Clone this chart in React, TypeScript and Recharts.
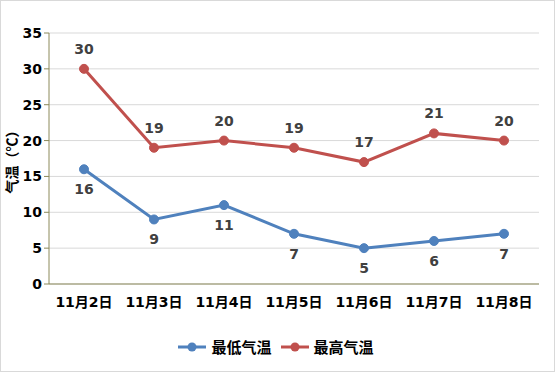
import { LineChart, Line, XAxis, YAxis, CartesianGrid, LabelList, Label, Legend } from "recharts";

const days = ["11月2日", "11月3日", "11月4日", "11月5日", "11月6日", "11月7日", "11月8日"];
const minTemp = [16, 9, 11, 7, 5, 6, 7];
const maxTemp = [30, 19, 20, 19, 17, 21, 20];
const yTicks = [0, 5, 10, 15, 20, 25, 30, 35];

const data = days.map((d, i) => ({ day: d, min: minTemp[i], max: maxTemp[i] }));

const FONT = "'DejaVu Sans', 'Noto Sans CJK SC', sans-serif";
const AXIS = "#8c8a5a";
const BLUE = "#4f81bd";
const RED = "#c0504d";

const legendItems = [
  { name: "最低气温", color: BLUE },
  { name: "最高气温", color: RED },
];

function MyLegend() {
  return (
    <div style={{ display: "flex", justifyContent: "center", gap: 8, paddingLeft: 12, fontFamily: "'Noto Sans CJK SC', sans-serif", fontWeight: 700, fontSize: 15, color: "#000" }}>
      {legendItems.map((it) => (
        <div key={it.name} style={{ display: "flex", alignItems: "center", gap: 4 }}>
          <svg width={30} height={12}>
            <line x1={1} y1={6} x2={29} y2={6} stroke={it.color} strokeWidth={3} />
            <circle cx={15} cy={6} r={4.5} fill={it.color} />
          </svg>
          <span>{it.name}</span>
        </div>
      ))}
    </div>
  );
}

const pad = { left: 35, right: 35 };
const tickStyle = { fill: "#000", fontSize: 14, fontWeight: 700, fontFamily: FONT };
const valStyle = { fill: "#404040", fontSize: 14, fontWeight: 700, fontFamily: FONT };

export default function App() {
  return (
    <div style={{ position: "absolute", left: 0, top: 0, width: 555, height: 372, background: "#fff" }}>
      <LineChart width={555} height={372} data={data} margin={{ top: 33, right: 16, left: 0, bottom: 12 }}>
        <CartesianGrid vertical={false} stroke="#d9d9d9" />
        <XAxis
          dataKey="day"
          height={52}
          padding={pad}
          axisLine={{ stroke: AXIS }}
          tickLine={false}
          tick={tickStyle}
          tickMargin={7}
          interval={0}
        />
        <XAxis xAxisId="top" orientation="top" dataKey="day" height={0} padding={pad} tick={false} tickLine={false} axisLine={{ stroke: AXIS }} />
        <YAxis
          width={49}
          domain={[0, 35]}
          ticks={yTicks}
          axisLine={{ stroke: AXIS }}
          tickLine={{ stroke: AXIS }}
          tickSize={5}
          tick={tickStyle}
        >
          <Label value="气温（℃）" angle={-90} position="center" dx={-12} style={{ fill: "#000", fontSize: 14, fontWeight: 700, fontFamily: "'Noto Sans CJK SC', sans-serif" }} />
        </YAxis>
        <YAxis yAxisId="right" orientation="right" width={0} domain={[0, 35]} tick={false} tickLine={false} axisLine={{ stroke: AXIS }} />
        <Legend verticalAlign="bottom" height={24} content={<MyLegend />} />
        <Line dataKey="min" stroke={BLUE} strokeWidth={3} dot={{ r: 4.5, fill: BLUE, stroke: BLUE, strokeWidth: 1 }} isAnimationActive={false}>
          <LabelList dataKey="min" position="bottom" offset={15} style={valStyle} />
        </Line>
        <Line dataKey="max" stroke={RED} strokeWidth={3} dot={{ r: 4.5, fill: RED, stroke: RED, strokeWidth: 1 }} isAnimationActive={false}>
          <LabelList dataKey="max" position="top" offset={15} style={valStyle} />
        </Line>
      </LineChart>
      <div style={{ position: "absolute", left: 0, top: 0, width: 555, height: 372, boxSizing: "border-box", border: "1px solid #d9d9d9", pointerEvents: "none" }} />
    </div>
  );
}
